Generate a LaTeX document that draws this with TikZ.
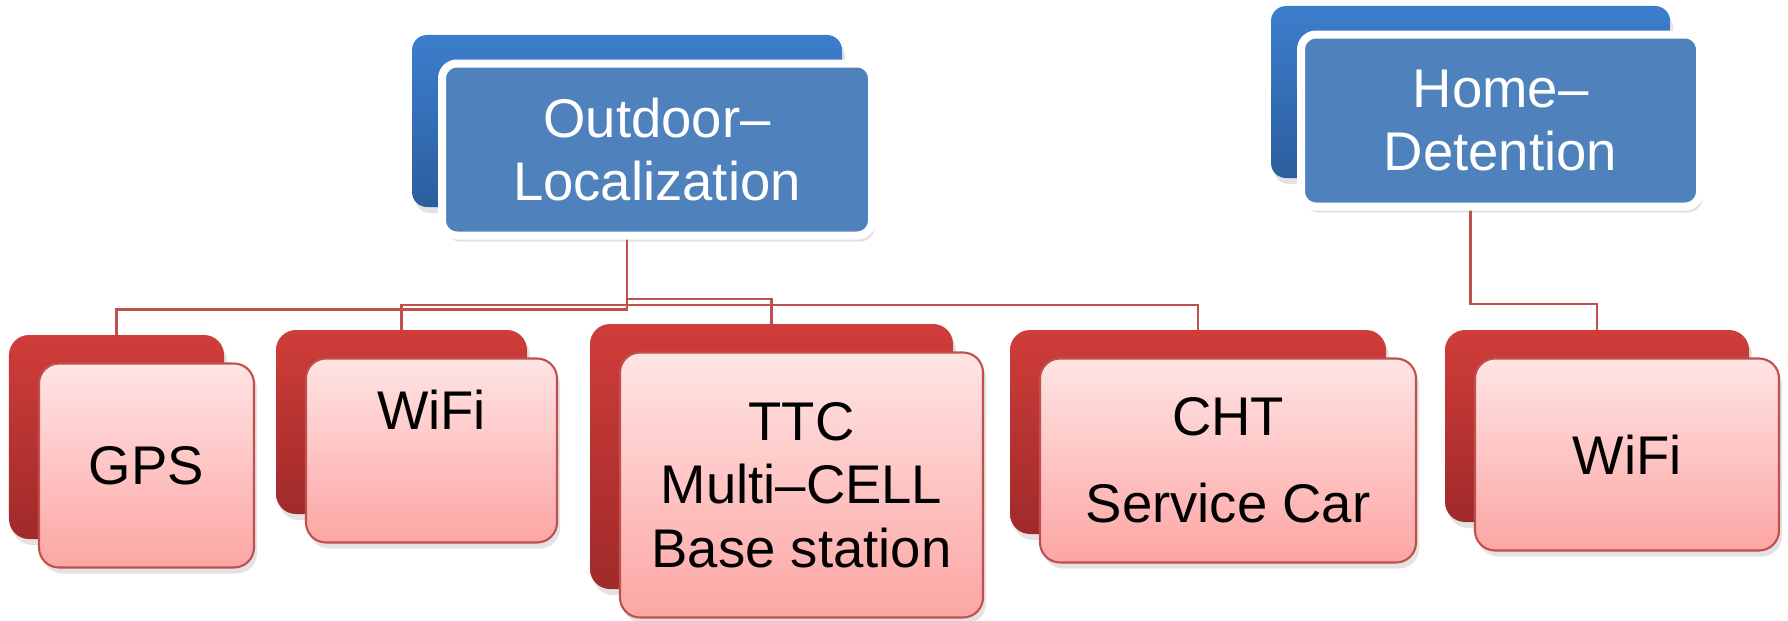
\documentclass[tikz,border=0pt]{standalone}
\usepackage{fontspec}
\setmainfont{Liberation Sans}
\usetikzlibrary{positioning,shadows,backgrounds}

\definecolor{blueTop}{HTML}{3C7ECC}
\definecolor{blueBot}{HTML}{2C5E9E}
\definecolor{blueFace}{HTML}{4F81BD}
\definecolor{redTop}{HTML}{CF3D39}
\definecolor{redBot}{HTML}{A02A2A}
\definecolor{pinkTop}{HTML}{FFE4E4}
\definecolor{pinkBot}{HTML}{FCA6A4}
\definecolor{linkRed}{HTML}{C0504D}

\tikzset{
    boxtext/.style={font=\fontsize{15.5}{18}\selectfont, align=center},
    softshadow/.style={drop shadow={opacity=0.22, shadow xshift=0.03cm, shadow yshift=-0.06cm}},
    blueback/.style={rectangle, rounded corners=0.15cm, top color=blueTop, bottom color=blueBot, inner sep=0pt, outer sep=0pt, softshadow},
    bluefront/.style={rectangle, rounded corners=0.15cm, fill=blueFace, draw=white, line width=0.08cm, inner sep=0pt, outer sep=0pt, text=white, boxtext, softshadow},
    redback/.style={rectangle, rounded corners=0.2cm, top color=redTop, bottom color=redBot, inner sep=0pt, outer sep=0pt, softshadow},
    redfront/.style={rectangle, rounded corners=0.2cm, top color=pinkTop, bottom color=pinkBot, draw=linkRed, line width=0.6pt, inner sep=0pt, outer sep=0pt, text=black, boxtext, softshadow},
    link/.style={draw=linkRed, line width=0.6pt}
}

\begin{document}
\begin{tikzpicture}
    \useasboundingbox (0,0) rectangle (17.88,6.2);

    % top level
    \node[blueback, minimum width=4.30cm, minimum height=1.72cm] (outB) at (6.27,4.99) {};
    \node[bluefront, minimum width=4.30cm, minimum height=1.72cm] (outF) at ([shift={(0.30,-0.285)}]outB) {Outdoor\textendash\\Localization};

    \node[blueback, minimum width=3.99cm, minimum height=1.72cm] (homeB) at (14.705,5.28) {};
    \node[bluefront, minimum width=3.99cm, minimum height=1.72cm] (homeF) at ([shift={(0.30,-0.285)}]homeB) {Home\textendash\\Detention};

    % children
    \node[redback, minimum width=2.15cm, minimum height=2.04cm] (gpsB) at (1.165,1.83) {};
    \node[redfront, minimum width=2.15cm, minimum height=2.04cm] (gpsF) at ([shift={(0.30,-0.285)}]gpsB) {GPS};

    \node[redback, minimum width=2.51cm, minimum height=1.84cm] (wifiB) at (4.015,1.98) {};
    \node[redfront, minimum width=2.51cm, minimum height=1.84cm,
          label={[name=wifiL, anchor=north, yshift=-0.31cm, inner sep=0pt, boxtext]north:WiFi}] (wifiF) at ([shift={(0.30,-0.285)}]wifiB) {};

    \node[redback, minimum width=3.63cm, minimum height=2.65cm] (ttcB) at (7.715,1.635) {};
    \node[redfront, minimum width=3.63cm, minimum height=2.65cm] (ttcF) at ([shift={(0.30,-0.285)}]ttcB) {TTC\\Multi\textendash CELL\\Base station};

    \node[redback, minimum width=3.76cm, minimum height=2.04cm] (chtB) at (11.98,1.88) {};
    \node[redfront, minimum width=3.76cm, minimum height=2.04cm] (chtF) at ([shift={(0.30,-0.285)}]chtB) {CHT\\[0.24cm]Service Car};

    \node[redback, minimum width=3.04cm, minimum height=1.92cm] (homeWifiB) at (15.97,1.94) {};
    \node[redfront, minimum width=3.04cm, minimum height=1.92cm] (homeWifiF) at ([shift={(0.30,-0.285)}]homeWifiB) {WiFi};

    % connectors
    \begin{pgfonlayer}{background}
        \draw[link] (outB.south) -- ++(0,-1.025) -| (gpsB.north);
        \draw[link] (outB.south) -- ++(0,-0.98) -| (wifiB.north);
        \draw[link] (outB.south) -- ++(0,-0.92) -| (ttcB.north);
        \draw[link] (outB.south) -- ++(0,-0.98) -| (chtB.north);
        \draw[link] (homeB.south) -- ++(0,-1.26) -| (homeWifiB.north);
    \end{pgfonlayer}
\end{tikzpicture}
\end{document}
